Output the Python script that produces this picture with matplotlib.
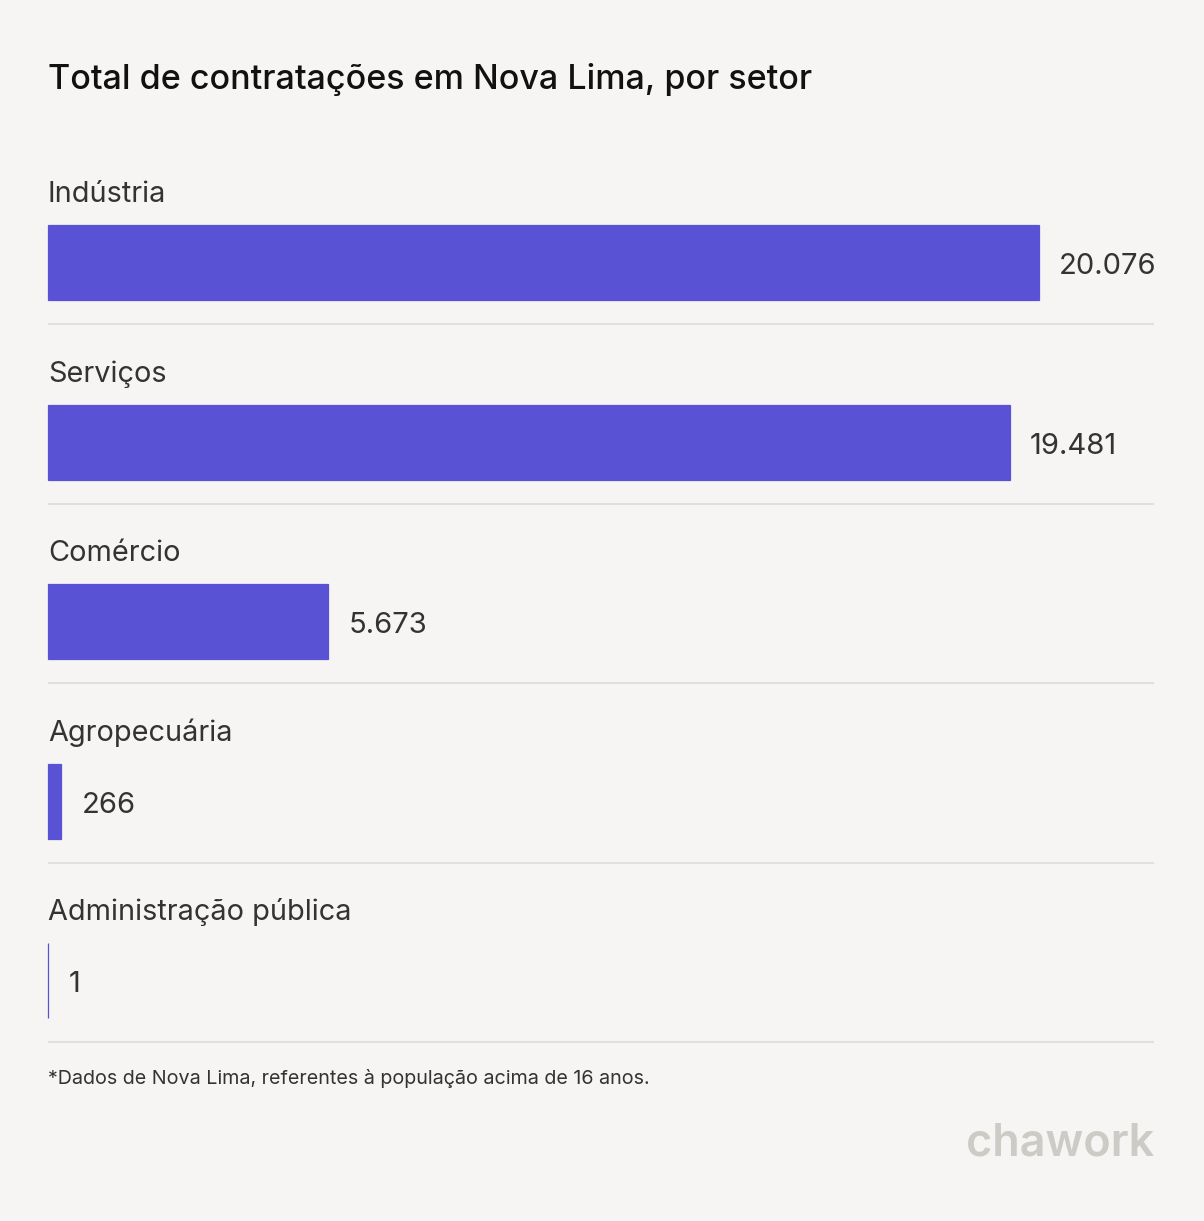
import matplotlib
matplotlib.use('Agg')
import matplotlib.pyplot as plt

plt.rcParams['font.family'] = ['Inter', 'DejaVu Sans']

# dados
setores = ['Indústria', 'Serviços', 'Comércio', 'Agropecuária', 'Administração pública']
contratacoes = [20076, 19481, 5673, 266, 1]
rotulos = ['20.076', '19.481', '5.673', '266', '1']

BG = '#f6f5f3'
BAR = '#5a52d5'
TXT = '#333333'
SEP = '#e2e0dd'

W, H = 1204, 1221
fig = plt.figure(figsize=(W / 100, H / 100), dpi=100, facecolor=BG)
ax = fig.add_axes([0, 0, 1, 1])
ax.set_facecolor(BG)

# escala em pixels: barra maior termina em x=1039
left_px = 48
scale = (1039 - left_px) / max(contratacoes)
row_px = 179.5
first_center = 262.5
ax.set_xlim(-left_px / scale, (W - left_px) / scale)
ax.set_ylim((H - first_center) / row_px, -first_center / row_px)
ax.axis('off')

ypos = list(range(len(setores)))
ax.barh(ypos, contratacoes, height=75 / row_px, color=BAR,
        edgecolor=BAR, linewidth=0.9, align='center')

xmax_line = (1154 - left_px) / scale
for i, (nome, v, lab) in enumerate(zip(setores, contratacoes, rotulos)):
    ax.text(0, i - 68 / row_px, nome, fontsize=20.8, color=TXT,
            va='center', ha='left')
    ax.annotate(lab, xy=(v, i), xytext=(14.5, -3), textcoords='offset points',
                fontsize=21, color=TXT, va='center', ha='left')
    ax.plot([0, xmax_line], [i + 61.5 / row_px] * 2, color=SEP, lw=1.5,
            solid_capstyle='butt')

fig.text(48 / W, 1 - 79 / H, 'Total de contratações em Nova Lima, por setor',
         fontsize=24.5, color='#111111', va='center', ha='left', fontweight='medium')
fig.text(48 / W, 1 - 1078 / H, '*Dados de Nova Lima, referentes à população acima de 16 anos.',
         fontsize=14.2, color=TXT, va='center', ha='left')
fig.text(1154 / W, 1 - 1143 / H, 'chawork', fontsize=32.4, color='#cdcbc6',
         va='center', ha='right', fontweight='semibold')

fig.savefig('out.png', dpi=100, facecolor=BG)
